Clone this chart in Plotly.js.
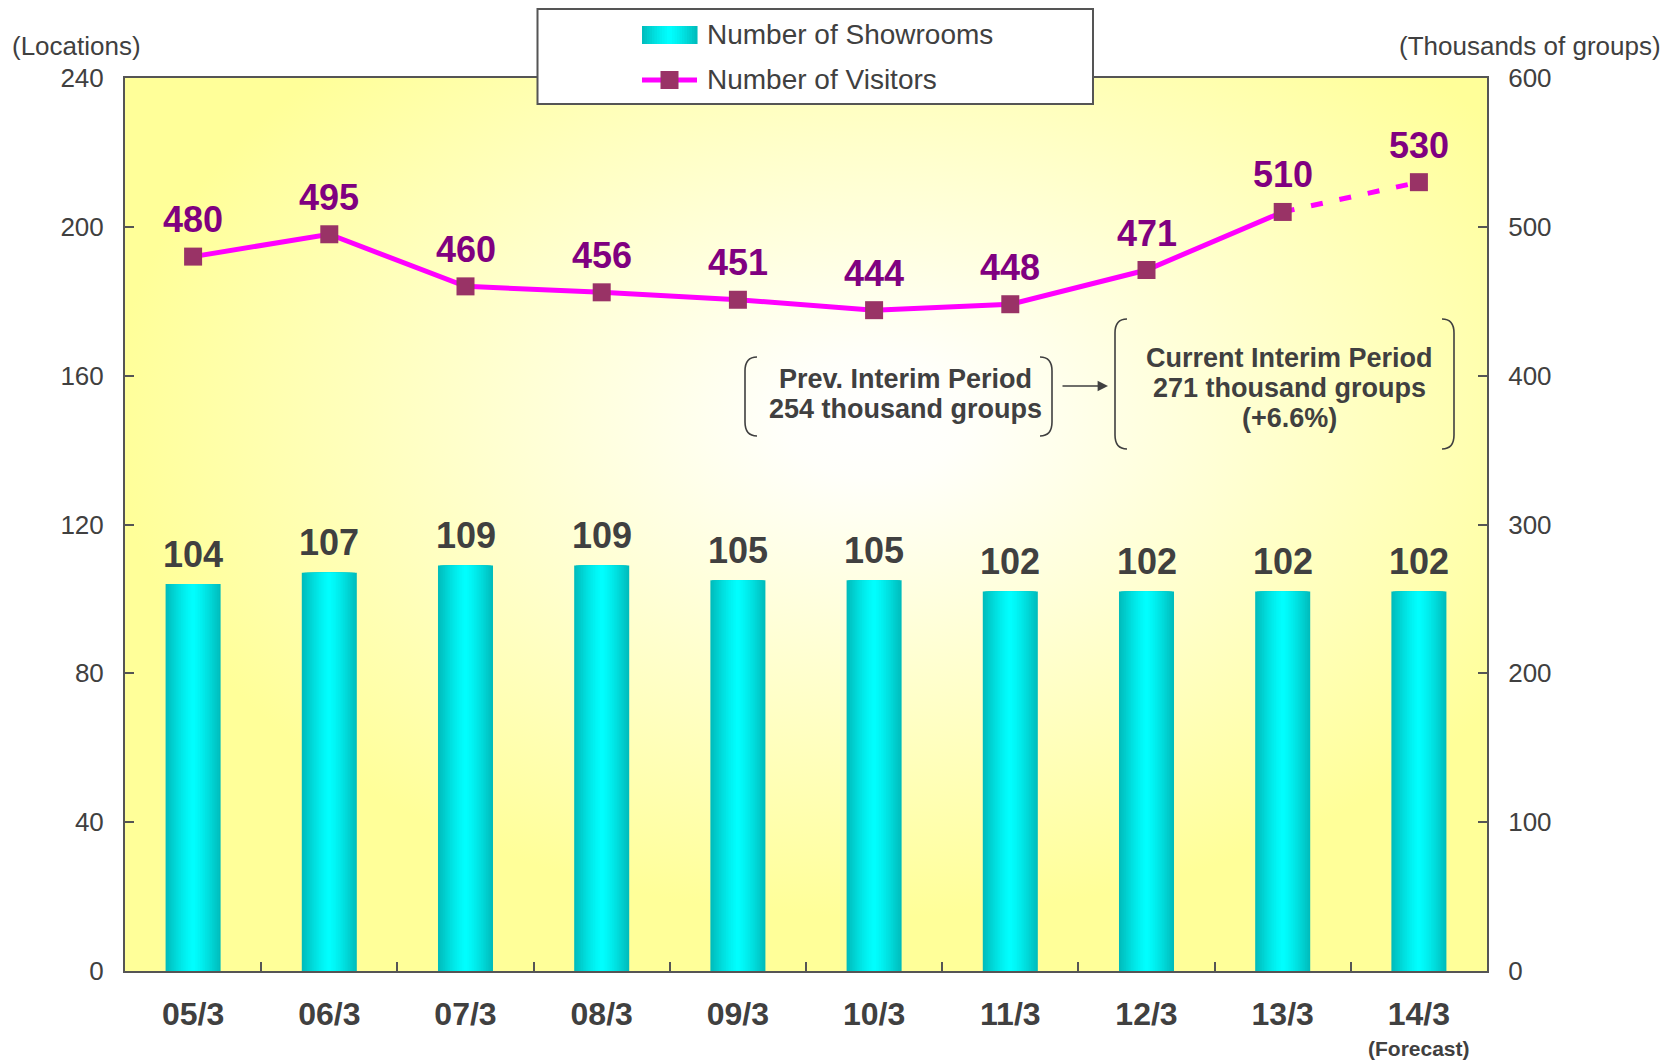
<!DOCTYPE html>
<html>
<head>
<meta charset="utf-8">
<script src="https://cdn.plot.ly/plotly-3.0.1.min.js"></script>
<style>
  html, body { margin: 0; padding: 0; background: #ffffff; }
  #chart { width: 1669px; height: 1060px; }
</style>
</head>
<body>
<div id="chart"></div>
<script>
// Fiscal periods (year-end March)
const categories = ['05/3', '06/3', '07/3', '08/3', '09/3', '10/3', '11/3', '12/3', '13/3', '14/3'];
// Number of showrooms (locations)
const showrooms = [104, 107, 109, 109, 105, 105, 102, 102, 102, 102];
// Number of visitors (thousands of groups); last period is a forecast
const visitors = [480, 495, 460, 456, 451, 444, 448, 471, 510, 530];
const actualCount = 9;

const leftTicks = [0, 40, 80, 120, 160, 200, 240];
const rightTicks = [0, 100, 200, 300, 400, 500, 600];

// Canvas geometry
const W = 1669, H = 1060;
const M = { l: 125, r: 182, t: 78, b: 89 };
const PW = W - M.l - M.r, PH = H - M.t - M.b;
const px = x => (x - M.l) / PW;          // pixel x -> paper
const py = y => (H - M.b - y) / PH;      // pixel y -> paper

const GRAY = '#404040';
const FONT = 'Liberation Sans, Arial, sans-serif';

// Cylinder-shaded bars built from overlaid layers of decreasing width
const BAR_W = 0.404;
const LAYERS = 16;
const edge = [0, 186, 186], center = [0, 255, 255];
function shade(d) {
  const b = Math.max(0, 1 - Math.pow(Math.min(1, d), 1.25));
  const c = edge.map((e, i) => Math.round(e + (center[i] - e) * b));
  return `rgb(${c[0]},${c[1]},${c[2]})`;
}
const traces = [];
for (let k = 0; k < LAYERS; k++) {
  const d = 1 - k / LAYERS;
  const dm = d - 0.5 / LAYERS;
  traces.push({
    type: 'bar',
    x: categories,
    y: showrooms,
    width: BAR_W * d,
    marker: { color: shade(dm), line: { width: 0 } },
    hoverinfo: 'skip',
    showlegend: false,
    yaxis: 'y'
  });
}

// Visitors line: solid for actual results, dashed to the forecast
traces.push({
  type: 'scatter', mode: 'lines',
  x: categories.slice(0, actualCount), y: visitors.slice(0, actualCount),
  line: { color: '#FF00FF', width: 5 },
  yaxis: 'y2', showlegend: false, hoverinfo: 'skip'
});
traces.push({
  type: 'scatter', mode: 'lines',
  x: categories.slice(actualCount - 1), y: visitors.slice(actualCount - 1),
  line: { color: '#FF00FF', width: 5, dash: '12px,17px' },
  yaxis: 'y2', showlegend: false, hoverinfo: 'skip'
});
traces.push({
  type: 'scatter', mode: 'markers',
  x: categories, y: visitors,
  marker: { symbol: 'square', size: 18, color: '#993366', line: { width: 0 } },
  yaxis: 'y2', showlegend: false, hoverinfo: 'skip', cliponaxis: false
});

// Value labels
const annotations = [];
categories.forEach((c, i) => {
  annotations.push({
    x: c, y: showrooms[i], xref: 'x', yref: 'y',
    text: String(showrooms[i]), showarrow: false,
    xanchor: 'center', yanchor: 'middle', yshift: 30,
    font: { family: FONT, size: 36, color: GRAY, weight: 'bold' }
  });
  annotations.push({
    x: c, y: visitors[i], xref: 'x', yref: 'y2',
    text: String(visitors[i]), showarrow: false,
    xanchor: 'center', yanchor: 'middle', yshift: 37,
    font: { family: FONT, size: 36, color: '#800080', weight: 'bold' }
  });
});

function paperText(text, x, y, size, bold, anchor) {
  return {
    xref: 'paper', yref: 'paper', x: px(x), y: py(y), text: text,
    showarrow: false, xanchor: anchor || 'center', yanchor: 'middle',
    borderpad: 0,
    font: { family: FONT, size: size, color: GRAY, weight: bold ? 'bold' : 'normal' }
  };
}

// Axis unit captions
annotations.push(paperText('(Locations)', 76, 46, 26, false));
annotations.push(paperText('(Thousands of groups)', 1530, 46, 26, false));

// Forecast note under the last period
annotations.push({
  xref: 'x', yref: 'paper', x: categories[categories.length - 1], y: py(1048),
  text: '(Forecast)', showarrow: false, xanchor: 'center', yanchor: 'middle',
  font: { family: FONT, size: 21, color: GRAY, weight: 'bold' }
});

// Interim comparison callout
annotations.push(paperText('Prev. Interim Period', 905, 379, 27, true));
annotations.push(paperText('254 thousand groups', 905, 409, 27, true));
annotations.push(paperText('Current Interim Period', 1289, 358, 27, true));
annotations.push(paperText('271 thousand groups', 1289, 388, 27, true));
annotations.push(paperText('(+6.6%)', 1289, 418, 27, true));
annotations.push({
  xref: 'paper', yref: 'paper', x: px(1108), y: py(386),
  ax: -47, ay: 0, text: '', showarrow: true,
  arrowhead: 2, arrowsize: 1.3, arrowwidth: 1.6, arrowcolor: GRAY
});

// Legend text
annotations.push(paperText('Number of Showrooms', 706, 34, 28, false, 'left'));
annotations.push(paperText('Number of Visitors', 706, 79, 28, false, 'left'));

// Rounded bracket path: vertical stroke with ends curling toward dir
function bracket(x, y0, y1, dir) {
  const rx = 12 / PW, ry = 14 / PH;
  const X = px(x), T = py(y0), B = py(y1);
  return {
    type: 'path', xref: 'paper', yref: 'paper', layer: 'above',
    path: `M ${X + dir * rx},${T} Q ${X},${T} ${X},${T - ry} L ${X},${B + ry} Q ${X},${B} ${X + dir * rx},${B}`,
    line: { color: GRAY, width: 1.6 }
  };
}

const shapes = [
  bracket(745, 357, 436, 1),
  bracket(1052, 357, 436, -1),
  bracket(1115, 319, 449, 1),
  bracket(1454, 319, 449, -1),
  // Legend box
  {
    type: 'rect', xref: 'paper', yref: 'paper', layer: 'above',
    x0: px(537.5), x1: px(1093), y0: py(104), y1: py(9),
    fillcolor: '#ffffff', line: { color: '#555555', width: 2 }
  }
];

// Legend swatch for the bars (shaded stripes)
const swL = 642, swR = 697, swT = 26, swB = 44, STRIPES = 22;
for (let s = 0; s < STRIPES; s++) {
  const x0 = swL + (swR - swL) * s / STRIPES;
  const x1 = swL + (swR - swL) * (s + 1) / STRIPES;
  const d = Math.abs(((s + 0.5) / STRIPES) * 2 - 1);
  shapes.push({
    type: 'rect', xref: 'paper', yref: 'paper', layer: 'above',
    x0: px(x0), x1: px(x1) + 0.0004, y0: py(swB), y1: py(swT),
    fillcolor: shade(d), line: { width: 0 }
  });
}
// Legend swatch for the line
shapes.push({
  type: 'line', xref: 'paper', yref: 'paper', layer: 'above',
  x0: px(642), x1: px(697), y0: py(80), y1: py(80),
  line: { color: '#FF00FF', width: 5 }
});
shapes.push({
  type: 'rect', xref: 'paper', yref: 'paper', layer: 'above',
  x0: px(660.5), x1: px(678.5), y0: py(89), y1: py(71),
  fillcolor: '#993366', line: { width: 0 }
});

// Plot-area background: yellow with a soft white glow
const bgSvg = "<svg xmlns='http://www.w3.org/2000/svg' width='1362' height='893' viewBox='0 0 100 100' preserveAspectRatio='none'>" +
  "<defs><radialGradient id='g' cx='0.55' cy='0.38' r='0.56'>" +
  "<stop offset='0' stop-color='#FFFFFF'/>" +
  "<stop offset='0.12' stop-color='#FFFFFA'/>" +
  "<stop offset='1' stop-color='#FFFF99'/>" +
  "</radialGradient></defs><rect x='0' y='0' width='100' height='100' fill='url(#g)'/></svg>";

const axisCommon = {
  showline: true, linecolor: '#555555', linewidth: 2,
  showgrid: false, zeroline: false,
  ticks: 'inside', ticklen: 9, tickcolor: '#555555', tickwidth: 2,
  tickfont: { family: FONT, size: 26, color: GRAY }
};

const layout = {
  width: W, height: H,
  margin: M,
  paper_bgcolor: '#ffffff',
  plot_bgcolor: 'rgba(0,0,0,0)',
  barmode: 'overlay',
  showlegend: false,
  xaxis: Object.assign({}, axisCommon, {
    type: 'category', range: [-0.5, categories.length - 0.5],
    tickson: 'boundaries', mirror: true,
    ticklabelstandoff: 14,
    tickfont: { family: FONT, size: 32, color: GRAY, weight: 'bold' }
  }),
  yaxis: Object.assign({}, axisCommon, {
    range: [0, 240], tickvals: leftTicks, ticktext: leftTicks.map(String),
    ticklabelstandoff: 14
  }),
  yaxis2: Object.assign({}, axisCommon, {
    range: [0, 600], tickvals: rightTicks, ticktext: rightTicks.map(String),
    overlaying: 'y', side: 'right', ticklabelstandoff: 14
  }),
  images: [{
    source: 'data:image/svg+xml;charset=utf-8,' + encodeURIComponent(bgSvg),
    xref: 'paper', yref: 'paper', x: 0, y: 1, sizex: 1, sizey: 1,
    xanchor: 'left', yanchor: 'top', sizing: 'stretch', layer: 'below'
  }],
  annotations: annotations,
  shapes: shapes
};

Plotly.newPlot('chart', traces, layout, { staticPlot: true, displayModeBar: false });
</script>
</body>
</html>
